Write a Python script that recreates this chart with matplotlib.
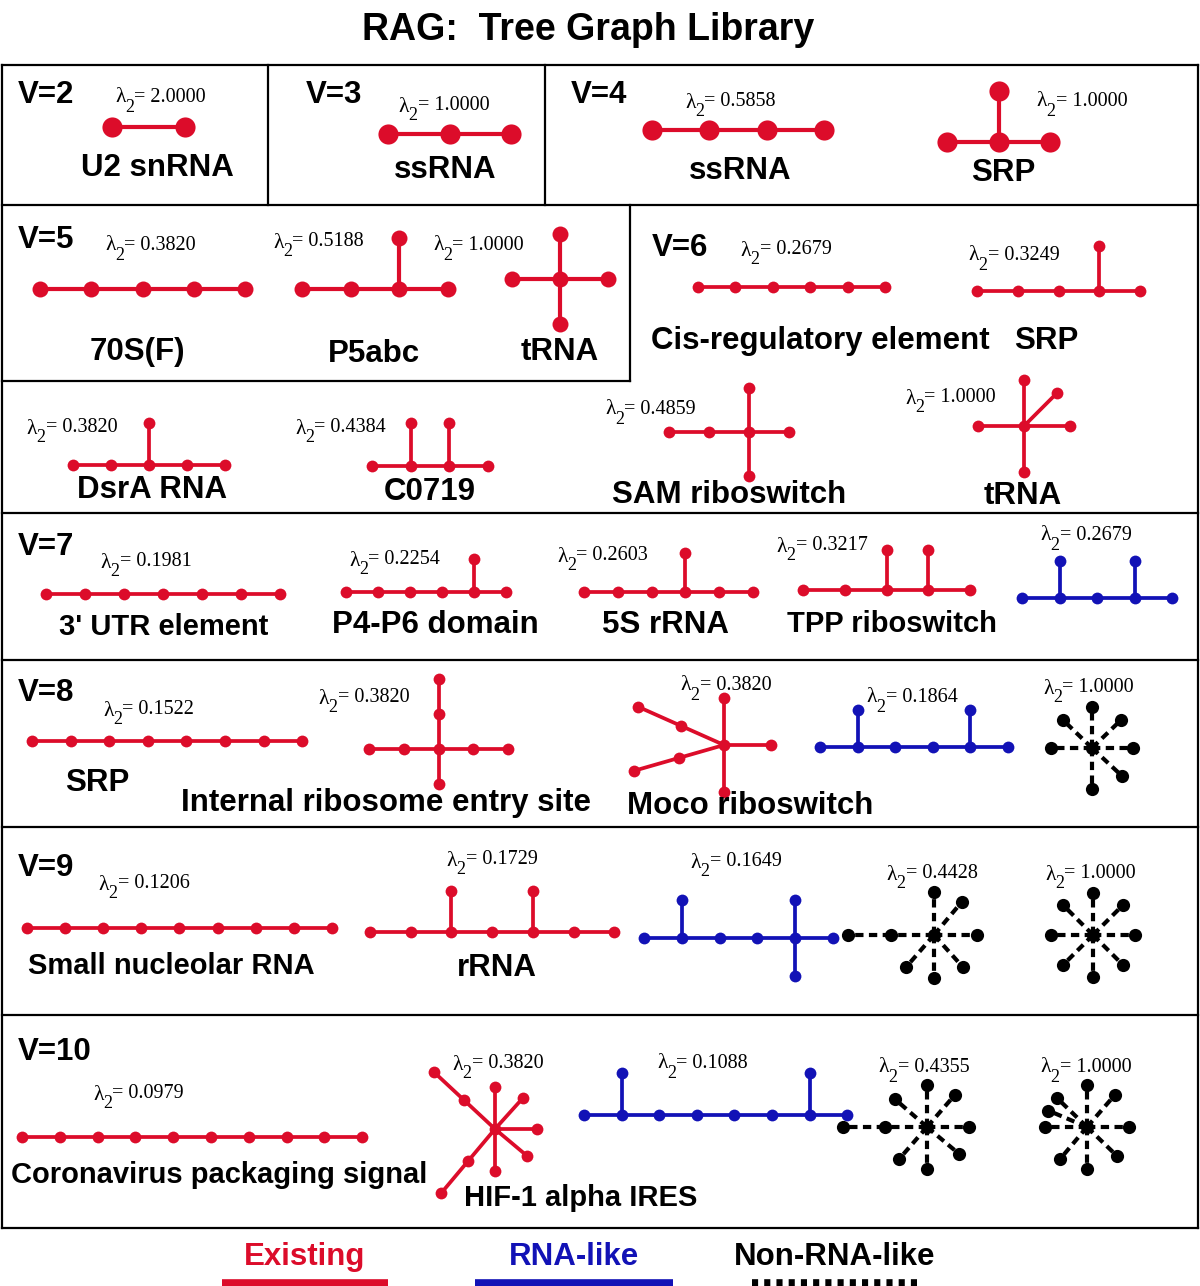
import matplotlib.pyplot as plt
import numpy as np

RED = "#dc0c2a"
BLUE = "#1212b6"
BLACK = "#000000"
colors = {"existing": RED, "rna": BLUE, "non": BLACK}

# ---- data: one entry per tree graph ----
vertices = [2, 3, 4, 4, 5, 5, 5, 6, 6, 6, 6, 6, 6,
            7, 7, 7, 7, 7, 8, 8, 8, 8, 8, 9, 9, 9, 9, 9,
            10, 10, 10, 10, 10]
names = ["U2 snRNA", "ssRNA", "ssRNA", "SRP", "70S(F)", "P5abc", "tRNA",
         "Cis-regulatory element", "SRP", "DsrA RNA", "C0719", "SAM riboswitch", "tRNA",
         "3' UTR element", "P4-P6 domain", "5S rRNA", "TPP riboswitch", "",
         "SRP", "Internal ribosome entry site", "Moco riboswitch", "", "",
         "Small nucleolar RNA", "rRNA", "", "", "",
         "Coronavirus packaging signal", "HIF-1 alpha IRES", "", "", ""]
lambda2 = [2.0000, 1.0000, 0.5858, 1.0000, 0.3820, 0.5188, 1.0000,
           0.2679, 0.3249, 0.3820, 0.4384, 0.4859, 1.0000,
           0.1981, 0.2254, 0.2603, 0.3217, 0.2679,
           0.1522, 0.3820, 0.3820, 0.1864, 1.0000,
           0.1206, 0.1729, 0.1649, 0.4428, 1.0000,
           0.0979, 0.3820, 0.1088, 0.4355, 1.0000]
kinds = ["existing"] * 17 + ["rna"] + ["existing"] * 3 + ["rna", "non"] + \
        ["existing"] * 2 + ["rna", "non", "non"] + ["existing"] * 2 + ["rna", "non", "non"]
# topology: nodes on the main chain, then arms (chain index, direction in degrees, nodes)
spine = [2, 3, 4, 3, 5, 4, 3, 6, 5, 5, 4, 4, 3,
         7, 6, 6, 5, 5, 8, 5, 1, 6, 1, 9, 7, 6, 1, 1,
         10, 1, 8, 1, 1]
arms = [
    [], [], [], [(1, 90, 1)], [], [(2, 90, 1)], [(1, 90, 1), (1, -90, 1)],
    [], [(3, 90, 1)], [(2, 90, 1)], [(1, 90, 1), (2, 90, 1)], [(2, 90, 1), (2, -90, 1)],
    [(1, 90, 1), (1, -90, 1), (1, 45, 1)],
    [], [(4, 90, 1)], [(3, 90, 1)], [(2, 90, 1), (3, 90, 1)], [(1, 90, 1), (3, 90, 1)],
    [], [(2, 90, 2), (2, -90, 1)],
    [(0, 0, 1), (0, 90, 1), (0, -90, 1), (0, 156, 2), (0, -164, 2)],
    [(1, 90, 1), (4, 90, 1)],
    [(0, 0, 1), (0, 44, 1), (0, 90, 1), (0, 136, 1), (0, 180, 1), (0, -43, 1), (0, -90, 1)],
    [], [(2, 90, 1), (4, 90, 1)], [(1, 90, 1), (4, 90, 1), (4, -90, 1)],
    [(0, 0, 1), (0, 50, 1), (0, 90, 1), (0, 180, 2), (0, -131, 1), (0, -90, 1), (0, -48, 1)],
    [(0, a, 1) for a in (0, 45, 90, 135, 180, -135, -90, -45)],
    [], [(0, 137, 2), (0, 90, 1), (0, 48, 1), (0, 0, 1), (0, -40, 1), (0, -90, 1), (0, -130, 2)],
    [(1, 90, 1), (6, 90, 1)],
    [(0, 0, 1), (0, 49, 1), (0, 90, 1), (0, 139, 1), (0, 180, 2), (0, -131, 1), (0, -90, 1), (0, -40, 1)],
    [(0, 0, 1), (0, 49, 1), (0, 90, 1), (0, 136, 1), (0, 157, 1), (0, 180, 1), (0, -130, 1), (0, -90, 1), (0, -44, 1)],
]

# ---- layout (pixels) ----
origin = [(112, 127), (388, 134), (652, 130), (947, 142), (40, 289), (302, 289), (512, 279),
          (698, 287), (977, 291), (73, 465), (372, 466), (669, 432), (978, 426),
          (46, 594), (346, 592), (584, 592), (803, 590), (1022, 598),
          (32, 741), (369, 749), (724, 745), (820, 747), (1092, 748),
          (27, 928), (370, 932), (644, 938), (934, 935), (1093, 935),
          (22, 1137), (495, 1129), (584, 1115), (927, 1127), (1087, 1127)]
step = [73, 61.5, 57.3, 51.5, 51.3, 48.7, 48, 37.4, 40.8, 38, 38.7, 40, 46,
        39, 32, 33.8, 41.8, 37.5, 38.6, 34.8, 47, 37.6, 41,
        38.1, 40.7, 37.8, 43, 42, 37.8, 42, 37.6, 42, 42]
arm_step = [73, 61.5, 57.3, 51, 51.3, 51, 45, 37.4, 45, 42, 43, 44, 46,
            39, 33, 39, 40, 37, 38.6, 35, 47, 37, 41,
            38.1, 41, 38, 43, 42, 37.8, 42, 42, 42, 42]
node_ms = [14.5, 14.5, 14.5, 14.5, 11.5, 11.5, 11.5] + [8.5] * 26
edge_lw = [3.0] * 7 + [2.7] * 26
lam_pos = [(115, 95), (398, 104), (685, 100), (1036, 99), (105, 243), (273, 240), (433, 243),
           (740, 248), (968, 253), (26, 426), (295, 426), (605, 407), (905, 396),
           (100, 560), (349, 558), (557, 554), (776, 544), (1040, 533),
           (103, 708), (318, 696), (680, 683), (866, 695), (1043, 686),
           (98, 882), (446, 858), (690, 860), (886, 872), (1045, 872),
           (93, 1092), (452, 1062), (657, 1061), (878, 1065), (1040, 1065)]
name_pos = [(157, 165), (445, 167), (740, 168), (1003, 170), (137, 349), (374, 351), (560, 349),
            (820, 338), (1046, 338), (152, 487), (430, 489), (729, 492), (1023, 493),
            (164, 624), (435, 622), (665, 622), (892, 621), None,
            (97, 780), (386, 800), (750, 803), None, None,
            (171, 963), (497, 965), None, None, None,
            (219, 1172), (581, 1195), None, None, None]
name_size = [22.5] * 13 + [21, 22.5, 22.5, 21, 22.5, 22.5, 22.5, 22.5, 22.5, 22.5,
                           21, 22.5, 22.5, 22.5, 22.5, 21, 21, 22.5, 22.5, 22.5]
dy_text = 3  # centre of caps sits a little lower than matplotlib's va="center"

v_labels = ["V=2", "V=3", "V=4", "V=5", "V=6", "V=7", "V=8", "V=9", "V=10"]
v_pos = [(18, 92), (306, 92), (571, 92), (18, 237), (652, 245), (18, 544), (18, 690), (18, 865), (18, 1049)]

legend_names = ["Existing", "RNA-like", "Non-RNA-like"]
legend_kinds = ["existing", "rna", "non"]
legend_x = [(222, 388), (475, 673), (752, 918)]


def tree_xy(n_spine, arm_list, x0, y0, d, da):
    pts = [(x0 + i * d, y0) for i in range(n_spine)]
    edges = [(i, i + 1) for i in range(n_spine - 1)]
    for idx, ang, cnt in arm_list:
        bx, by = pts[idx]
        prev = idx
        for k in range(1, cnt + 1):
            pts.append((bx + k * da * np.cos(np.radians(ang)),
                        by - k * da * np.sin(np.radians(ang))))
            edges.append((prev, len(pts) - 1))
            prev = len(pts) - 1
    return np.array(pts), edges


fig = plt.figure(figsize=(12, 12.86), dpi=100)
ax = fig.add_axes([0, 0, 1, 1])
ax.set_xlim(0, 1200)
ax.set_ylim(1286, 0)
ax.axis("off")

# frames
box_lw = 1.6
for y in [65, 205, 513, 660, 827, 1015, 1228]:
    ax.plot([2, 1198], [y, y], color="black", lw=box_lw)
ax.plot([2, 2], [65, 1228], color="black", lw=box_lw)
ax.plot([1198, 1198], [65, 1228], color="black", lw=box_lw)
for x in [268, 545]:
    ax.plot([x, x], [65, 205], color="black", lw=box_lw)
ax.plot([630, 630], [205, 381], color="black", lw=box_lw)
ax.plot([2, 630], [381, 381], color="black", lw=box_lw)

serif = "Liberation Serif"
for i in range(len(names)):
    col = colors[kinds[i]]
    pts, edges = tree_xy(spine[i], arms[i], origin[i][0], origin[i][1], step[i], arm_step[i])
    ls = (0, (2.0, 1.3)) if kinds[i] == "non" else "-"
    for a, b in edges:
        ax.plot([pts[a, 0], pts[b, 0]], [pts[a, 1], pts[b, 1]], color=col,
                lw=edge_lw[i] + (0.3 if kinds[i] == "non" else 0), ls=ls, zorder=2,
                solid_capstyle="butt")
    ms = node_ms[i] + (1.0 if kinds[i] == "non" else 0)
    ax.plot(pts[:, 0], pts[:, 1], "o", ms=ms, color=col, mec="none", zorder=3)
    # lambda_2 label: symbol, low subscript, then value
    lx, ly = lam_pos[i]
    ly += dy_text
    ax.text(lx, ly, "λ", fontsize=15.5, family=serif, va="center", ha="left")
    ax.text(lx + 10.5, ly + 9, "2", fontsize=13, family=serif, va="center", ha="left")
    ax.text(lx + 19.5, ly - 1, "= %.4f" % lambda2[i], fontsize=14.5, family=serif,
            va="center", ha="left")
    if name_pos[i] is not None:
        ax.text(name_pos[i][0], name_pos[i][1] + dy_text, names[i], fontsize=name_size[i],
                family="Liberation Sans", weight="bold", ha="center", va="center")

for lab, (x, y) in zip(v_labels, v_pos):
    ax.text(x, y + dy_text, lab, fontsize=22.5, family="Liberation Sans", weight="bold",
            ha="left", va="center")

ax.text(588, 27 + dy_text, "RAG:  Tree Graph Library", fontsize=27, family="Liberation Sans",
        weight="bold", ha="center", va="center")

for lab, kd, (x1, x2) in zip(legend_names, legend_kinds, legend_x):
    col = colors[kd]
    ax.text((x1 + x2) / 2, 1254 + dy_text, lab, fontsize=22.5, family="Liberation Sans",
            weight="bold", ha="center", va="center", color=col)
    ls = (0, (0.8, 0.8)) if kd == "non" else "-"
    ax.plot([x1, x2], [1283, 1283], color=col, lw=5.5, ls=ls, solid_capstyle="butt")

fig.savefig("out.png", dpi=100)
